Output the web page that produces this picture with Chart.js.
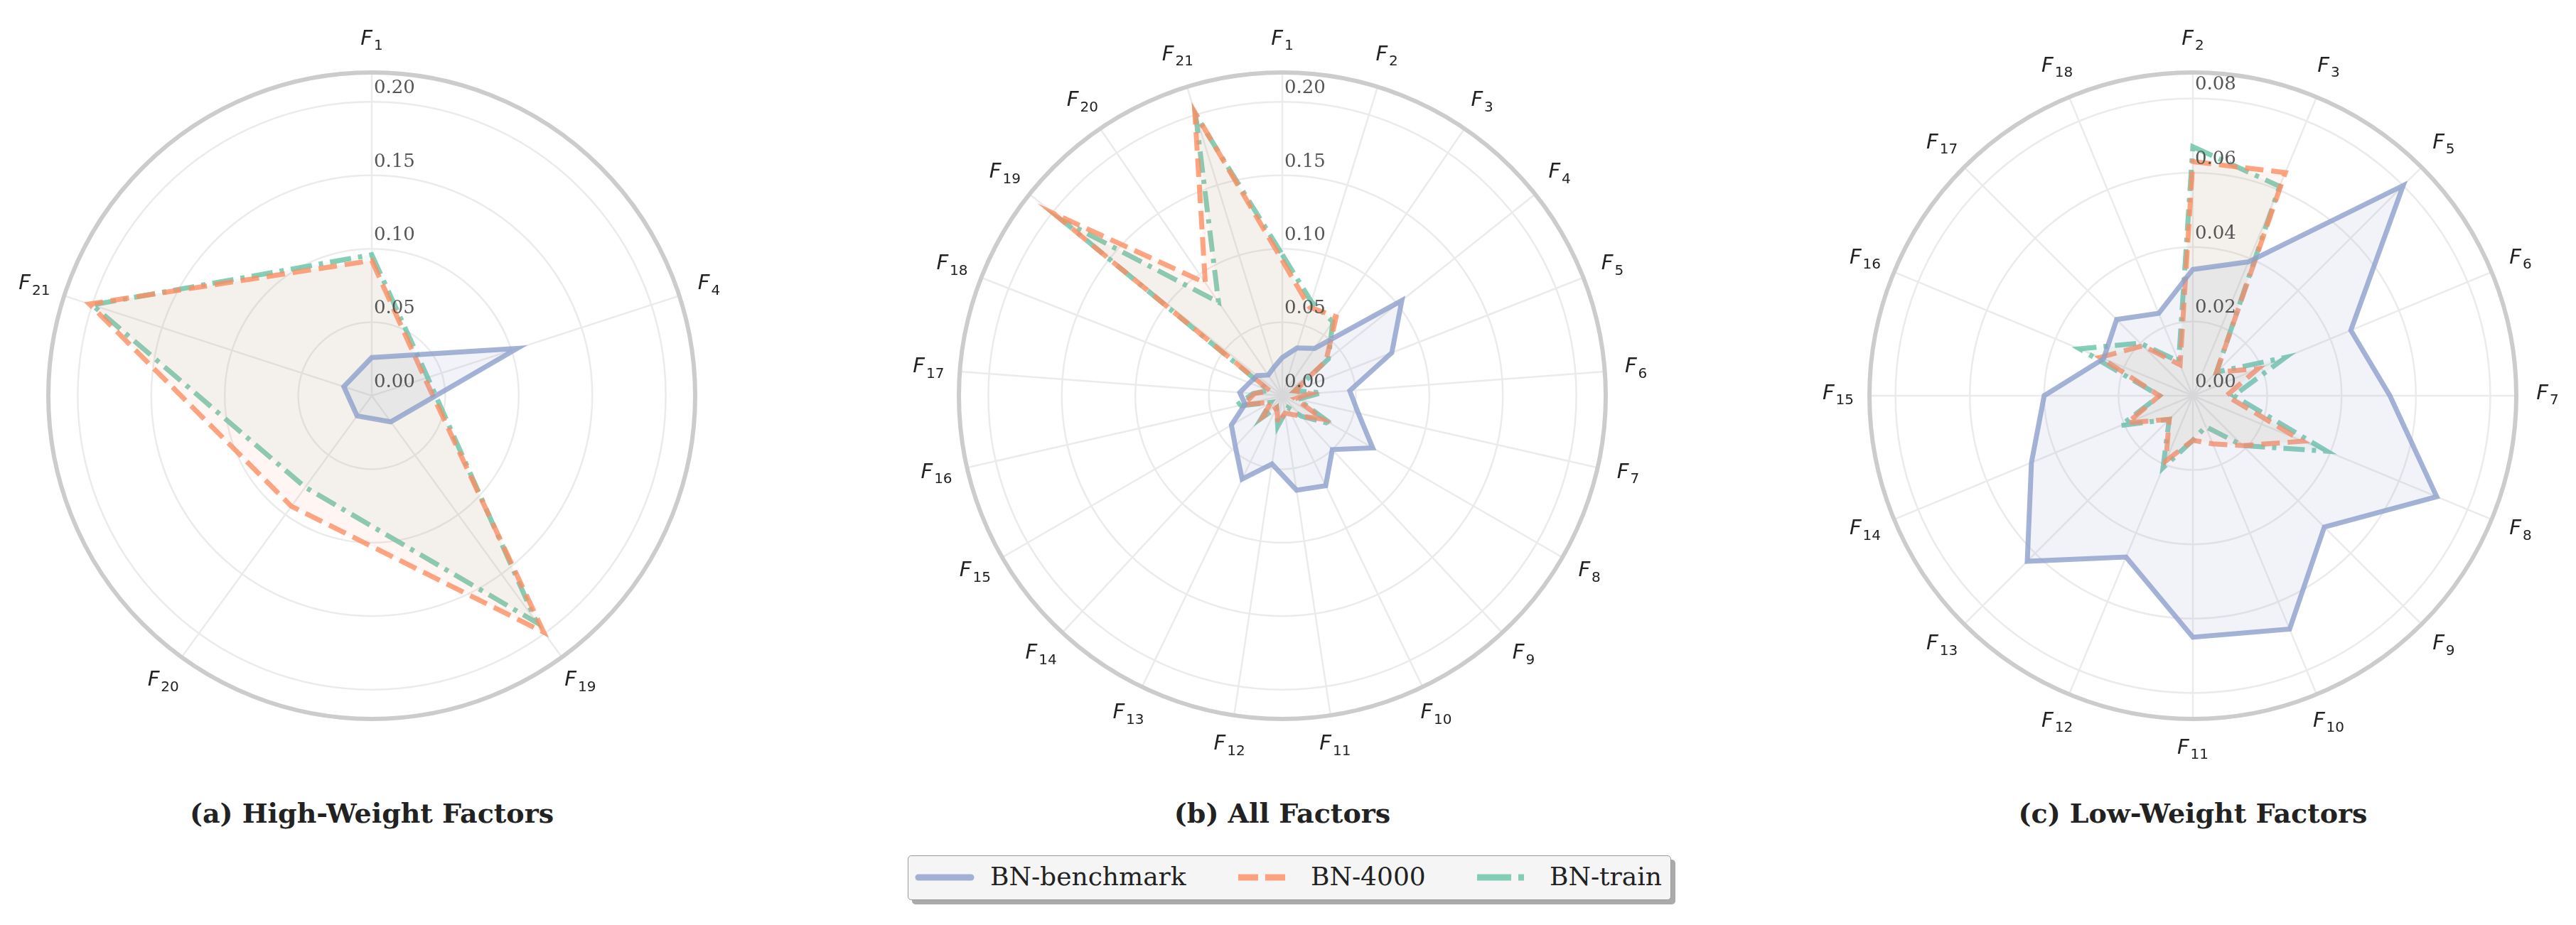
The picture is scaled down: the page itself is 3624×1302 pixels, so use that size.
<!DOCTYPE html>
<html><head><meta charset="utf-8">
<script src="https://cdn.jsdelivr.net/npm/chart.js@4"></script>
<style>
body{margin:0;background:#fff;width:3624px;height:1302px;position:relative;overflow:hidden;font-family:"DejaVu Serif",serif}
canvas{position:absolute}
.title{position:absolute;font:bold 38px "DejaVu Serif";color:#222;transform:translateX(-50%);white-space:nowrap;top:1122px}
#legend{position:absolute;left:1277px;top:1204px;width:1074px;height:63px;background:#f5f5f5;border:1.5px solid #999;border-radius:5px;box-shadow:6px 6px 0 #aaa;box-sizing:border-box}
#legend span{position:absolute;top:8px;font:36px "DejaVu Serif";color:#222}
#legend svg{position:absolute;left:0;top:0}
</style></head><body>
<canvas id="ca"></canvas><canvas id="cb"></canvas><canvas id="cc"></canvas>
<div class="title" style="left:523px">(a) High-Weight Factors</div>
<div class="title" style="left:1804px">(b) All Factors</div>
<div class="title" style="left:3085px">(c) Low-Weight Factors</div>
<div id="legend">
<svg width="1074" height="63">
<line x1="14" y1="30" x2="88" y2="30" stroke="#8da0cb" stroke-opacity="0.8" stroke-width="9" stroke-linecap="round"/>
<line x1="464" y1="30" x2="534" y2="30" stroke="#fc8d62" stroke-opacity="0.8" stroke-width="9" stroke-dasharray="28,10"/>
<line x1="800" y1="30" x2="870" y2="30" stroke="#66c2a5" stroke-opacity="0.8" stroke-width="9" stroke-dasharray="48,10,8,10"/>
</svg>
<span style="left:115px">BN-benchmark</span>
<span style="left:566px">BN-4000</span>
<span style="left:902px">BN-train</span>
</div>
<script>
const factors = ["1","2","3","4","5","6","7","8","9","10","11","12","13","14","15","16","17","18","19","20","21"];
const benchmark = [0.026,0.034,0.039,0.104,0.080,0.046,0.053,0.071,0.050,0.068,0.065,0.047,0.063,0.047,0.040,0.026,0.029,0.024,0.022,0.017,0.020];
const bn4000 =    [0.092,0.063,0.065,0.038,0.009,0.019,0.009,0.032,0.019,0.014,0.012,0.019,0.009,0.019,0.009,0.027,0.019,0.009,0.199,0.093,0.202];
const bnTrain =   [0.096,0.067,0.061,0.040,0.009,0.027,0.011,0.039,0.019,0.009,0.012,0.021,0.009,0.021,0.009,0.033,0.020,0.010,0.191,0.077,0.200];
const highIdx = [1,4,19,20,21];
const allIdx = factors.map(Number);
const lowIdx = [2,3,5,6,7,8,9,10,11,12,13,14,15,16,17,18];
const ticksHigh = [0,0.05,0.10,0.15,0.20];
const ticksLow = [0,0.02,0.04,0.06,0.08];

const PAD = 90;
const decor = {
  id:'decor',
  beforeDatasetsDraw(chart){
    const s = chart.scales.r, ctx = chart.ctx;
    ctx.save();
    ctx.beginPath(); ctx.arc(s.xCenter,s.yCenter,s.drawingArea,0,Math.PI*2);
    ctx.strokeStyle='#cccccc'; ctx.lineWidth=6; ctx.stroke();
    ctx.restore();
  },
  afterDraw(chart){
    const s = chart.scales.r, ctx = chart.ctx, labels = chart.data.labels;
    ctx.save();
    ctx.fillStyle='#555'; ctx.font='26px "DejaVu Serif"'; ctx.textAlign='left'; ctx.textBaseline='bottom';
    chart.options.tickList.forEach(v=>{
      const d = s.getDistanceFromCenterForValue(v);
      ctx.fillText(v.toFixed(2), s.xCenter+3, s.yCenter-d-6);
    });
    labels.forEach((lab,i)=>{
      const p = s.getPointPosition(i, s.drawingArea+44);
      ctx.font='italic 29px "DejaVu Sans"'; const w1=ctx.measureText('F').width;
      ctx.font='20px "DejaVu Sans"'; const w2=ctx.measureText(lab).width;
      const x0 = p.x-(w1+w2+2)/2;
      ctx.fillStyle='#222'; ctx.textAlign='left'; ctx.textBaseline='middle';
      ctx.font='italic 29px "DejaVu Sans"'; ctx.fillText('F',x0,p.y-3);
      ctx.font='20px "DejaVu Sans"'; ctx.fillText(lab,x0+w1+2,p.y+7);
    });
    ctx.restore();
  }
};

function make(id, idx, max, tickList, cx, cy, R){
  const c = document.getElementById(id);
  const S = 2*R+2*PAD;
  c.width=S; c.height=S; c.style.left=(cx-R-PAD)+'px'; c.style.top=(cy-R-PAD)+'px';
  const pick = a => idx.map(i=>a[i-1]);
  new Chart(c,{
    type:'radar',
    data:{labels:idx.map(String),datasets:[
      {data:pick(benchmark),borderColor:'rgba(141,160,203,0.8)',backgroundColor:'rgba(141,160,203,0.12)',borderWidth:7,fill:true,pointRadius:0,borderJoinStyle:'miter'},
      {data:pick(bn4000),borderColor:'rgba(252,141,98,0.8)',backgroundColor:'rgba(252,141,98,0.08)',borderWidth:7,borderDash:[26,11],fill:true,pointRadius:0,borderJoinStyle:'miter'},
      {data:pick(bnTrain),borderColor:'rgba(102,194,165,0.8)',backgroundColor:'rgba(102,194,165,0.08)',borderWidth:7,borderDash:[30,10,6,10],fill:true,pointRadius:0,borderJoinStyle:'miter'}
    ]},
    options:{
      tickList:tickList,
      responsive:false,animation:false,devicePixelRatio:1,
      layout:{padding:PAD},
      plugins:{legend:{display:false},tooltip:{enabled:false}},
      scales:{r:{min:0,max:max,
        afterBuildTicks:sc=>{sc.ticks=tickList.map(v=>({value:v}));},
        ticks:{display:false},
        pointLabels:{display:false},
        grid:{color:'#ebebeb',lineWidth:2.5,circular:true},
        angleLines:{color:'#ebebeb',lineWidth:2.5}
      }}
    },
    plugins:[decor]
  });
}
make('ca',highIdx,0.22,ticksHigh,523,557,455);
make('cb',allIdx,0.22,ticksHigh,1804,557,455);
make('cc',lowIdx,0.087,ticksLow,3085,557,455);
</script></body></html>
